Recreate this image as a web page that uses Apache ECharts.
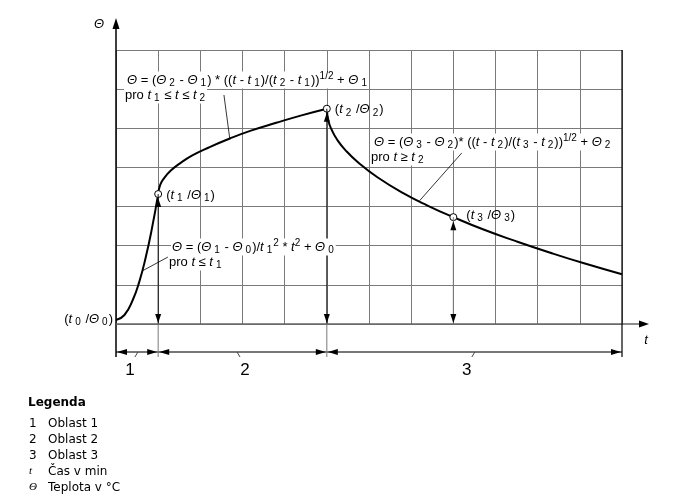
<!DOCTYPE html>
<html>
<head>
<meta charset="utf-8">
<script src="https://cdn.jsdelivr.net/npm/echarts@6/dist/echarts.min.js"></script>
<style>
    html, body { margin: 0; padding: 0; background: #fff; }
    #chart { width: 686px; height: 499px; }
</style>
</head>
<body>
<div id="chart"></div>
<script>
// curve, in grid cells (x: 12 cells, y: 7 cells)
const region1Times = [0, 0.2, 0.4, 0.55, 0.7, 0.85, 1];
const region1Temps = [0.1, 0.23, 0.62, 1.07, 1.68, 2.43, 3.32];
const region2Times = [1, 1.05, 1.15, 1.3, 1.5, 1.8, 2.2, 2.7, 3.2, 3.8, 4.4, 5];
const region2Temps = [3.32, 3.56, 3.74, 3.92, 4.09, 4.3, 4.51, 4.74, 4.94, 5.14, 5.33, 5.5];
const region3Times = [5, 5.04, 5.12, 5.25, 5.45, 5.75, 6.2, 6.8, 7.4, 8, 8.7, 9.5, 10.3, 11.1, 12];
const region3Temps = [5.5, 5.18, 4.95, 4.7, 4.43, 4.12, 3.75, 3.35, 3.02, 2.73, 2.42, 2.11, 1.82, 1.55, 1.27];

// (t0/Θ0) ... (t3/Θ3)
const pointTimes = [0, 1, 5, 8];
const pointTemps = [0.1, 3.32, 5.5, 2.73];
const pointIndex = ['0', '1', '2', '3'];

// regions 1..3 along the time axis
const regionBounds = [0, 1, 5, 12];
const regionLabels = ['1', '2', '3'];
const regionLabelAt = [0.33, 3.06, 8.32];

const legendKeys = ['1', '2', '3', 't', 'Θ'];
const legendTexts = ['Oblast 1', 'Oblast 2', 'Oblast 3', 'Čas v min', 'Teplota v °C'];

const FONT = '"Liberation Sans", Arial, sans-serif';
const LEGEND_FONT = '"DejaVu Sans", Verdana, sans-serif';
const GRID_COLOR = '#7a7a7a';

const rich = {
    i: { fontFamily: FONT, fontSize: 13, fontStyle: 'italic', lineHeight: 17, color: '#000' },
    s: { fontFamily: FONT, fontSize: 10, lineHeight: 10, verticalAlign: 'bottom', padding: [0, 1, 0, 3], color: '#000' },
    p: { fontFamily: FONT, fontSize: 10, lineHeight: 10, verticalAlign: 'top', color: '#000' },
    n: { fontFamily: FONT, fontSize: 13, lineHeight: 17, color: '#1b1b6e' }
};

const pairs = (xs, ys) => xs.map((x, i) => [x, ys[i]]);

const chart = echarts.init(document.getElementById('chart'), null, { renderer: 'canvas' });

const curves = [
    [region1Times, region1Temps],
    [region2Times, region2Temps],
    [region3Times, region3Temps]
].map(([xs, ys]) => ({
    type: 'line',
    data: pairs(xs, ys),
    smooth: 0.5,
    symbol: 'none',
    silent: true,
    z: 4,
    lineStyle: { color: '#000', width: 2 }
}));

const pointLabel = i => `(${'{i|t}'}{s|${pointIndex[i]}} /{i|Θ}{s|${pointIndex[i]}})`;

chart.setOption({
    animation: false,
    grid: { left: 116, top: 50, right: 64, bottom: 175 },
    xAxis: {
        type: 'value', min: 0, max: 12, interval: 1,
        axisLine: { show: false }, axisTick: { show: false }, axisLabel: { show: false },
        splitLine: { show: true, lineStyle: { color: GRID_COLOR, width: 1 } }
    },
    yAxis: {
        type: 'value', min: 0, max: 7, interval: 1,
        axisLine: { show: false }, axisTick: { show: false }, axisLabel: { show: false },
        splitLine: { show: true, lineStyle: { color: GRID_COLOR, width: 1 } }
    },
    series: [
        ...curves,
        {
            type: 'scatter',
            z: 6,
            silent: true,
            data: pointTimes.map((t, i) => ({
                value: [t, pointTemps[i]],
                symbolSize: i === 0 ? 0 : 7,
                label: i === 0
                    ? { position: 'left', distance: 3, offset: [0, -1] }
                    : { position: 'right', distance: i === 3 ? 9 : 4, offset: [0, i === 3 ? -2 : 1] }
            })),
            itemStyle: { color: '#fff', borderColor: '#000', borderWidth: 1, opacity: 1 },
            label: {
                show: true,
                fontFamily: FONT, fontSize: 13, lineHeight: 17, color: '#000',
                formatter: p => pointLabel(p.dataIndex),
                rich: rich
            }
        }
    ]
});

// annotation layer, placed through the grid's own coordinate system
const px = (x, y) => chart.convertToPixel({ gridIndex: 0 }, [x, y]);
const [X0, Y0] = px(0, 0);
const [X12, Y7] = px(12, 7);
const dimY = Y0 + 28;
const extY = Y0 + 33;

function seg(a, b, stroke, w, z) {
    return { type: 'line', z: z || 8, silent: true,
        shape: { x1: a[0], y1: a[1], x2: b[0], y2: b[1] },
        style: { stroke: stroke, lineWidth: w } };
}
function head(tip, dir, len, half) {
    len = len || 9; half = half || 3;
    const [x, y] = tip;
    const pts = {
        up: [[x, y], [x - half, y + len], [x + half, y + len]],
        down: [[x, y], [x - half, y - len], [x + half, y - len]],
        left: [[x, y], [x + len, y - half], [x + len, y + half]],
        right: [[x, y], [x - len, y - half], [x - len, y + half]]
    }[dir];
    return { type: 'polygon', z: 12, silent: true, shape: { points: pts }, style: { fill: '#000' } };
}
function txt(x, y, text, opts) {
    return { type: 'text', x: x, y: y, z: 9, silent: true,
        style: Object.assign({
            text: text, rich: rich, fontFamily: FONT, fontSize: 13, lineHeight: 17,
            fill: '#000', align: 'left', verticalAlign: 'middle'
        }, opts || {}) };
}

const g = [];

// axes with arrows
g.push(seg([X0, extY], [X0, Y7 - 21], '#000', 1.5, 10));
g.push(head([X0, 18], 'up', 11, 3.5));
g.push(seg([X0, Y0], [X12 + 18, Y0], '#666', 1.5, 10));
g.push(head([X12 + 27, Y0], 'right', 10, 3.5));
g.push(seg([X12, Y7], [X12, extY], '#000', 1.2, 10));
g.push(txt(X0 - 17, 24, '{i|Θ}', { align: 'center' }));
g.push(txt(X12 + 24, Y0 + 16, '{i|t}', { align: 'center' }));

// vertical arrows from the time axis up to t1, t2, t3
pointTimes.slice(1).forEach((t, k) => {
    const [x, yTop] = px(t, pointTemps[k + 1]);
    g.push(seg([x, Y0], [x, yTop], k === 2 ? GRID_COLOR : '#111', 1, 7));
    g.push(head([x, yTop + 4], 'up', 9, 3));
    g.push(head([x, Y0 - 1], 'down', 9, 3));
    if (k < 2) g.push(seg([x, Y0], [x, extY], GRID_COLOR, 1, 7));
});

// region dimension line
g.push(seg([X0, dimY], [X12, dimY], '#777', 2, 8));
for (let r = 0; r < regionLabels.length; r++) {
    const xa = px(regionBounds[r], 0)[0];
    const xb = px(regionBounds[r + 1], 0)[0];
    g.push(head([xa + 1, dimY], 'left', 10, 3));
    g.push(head([xb - 1, dimY], 'right', 10, 3));
    const xl = px(regionLabelAt[r], 0)[0];
    const side = r === 1 ? -1 : 1;
    g.push(seg([xl + 5 * side + 3 * side, dimY], [xl + 5 * side, dimY + 5], '#444', 1, 8));
    g.push(txt(xl, dimY + 18, regionLabels[r], { align: 'center', fontSize: 17 }));
}

// formula annotations with leader lines
const note = (x, y, text) => txt(x, y, text, { backgroundColor: '#fff', padding: [0, 1] });
g.push(note(126, 80, '{i|Θ} = ({i|Θ}{s|2} - {i|Θ}{s|1}) * (({i|t} - {i|t}{s|1})/({i|t}{s|2} - {i|t}{s|1})){p|1/2} + {i|Θ}{s|1}'));
g.push(note(124, 95, '{n|pro} {i|t}{s|1} ≤ {i|t} ≤ {i|t}{s|2}'));
g.push(seg(px(2.56, 5.85), px(2.7, 4.72), '#000', 0.8, 8));

g.push(note(373, 142, '{i|Θ} = ({i|Θ}{s|3} - {i|Θ}{s|2})* (({i|t} - {i|t}{s|2})/({i|t}{s|3} - {i|t}{s|2})){p|1/2} + {i|Θ}{s|2}'));
g.push(note(370, 157, '{n|pro} {i|t} ≥ {i|t}{s|2}'));
g.push(seg(px(8.2, 4.37), px(7.2, 3.15), '#000', 0.8, 8));

g.push(note(171, 247, '{i|Θ} = ({i|Θ}{s|1} - {i|Θ}{s|0})/{i|t}{s|1}{p|2} * {i|t}{p|2} + {i|Θ}{s|0}'));
g.push(note(168, 262, '{n|pro} {i|t} ≤ {i|t}{s|1}'));
g.push(seg(px(1.23, 1.71), px(0.63, 1.36), '#000', 0.8, 8));

// legend block
g.push({ type: 'text', x: 28, y: 403, silent: true,
    style: { text: 'Legenda', fontFamily: LEGEND_FONT, fontSize: 12, fontWeight: 'bold', fill: '#000', verticalAlign: 'middle' } });
legendKeys.forEach((key, i) => {
    const y = 423.5 + i * 16;
    const italic = i >= 3;
    g.push({ type: 'text', x: 29, y: y, silent: true,
        style: { text: key, fontFamily: italic ? '"Liberation Serif", serif' : LEGEND_FONT, fontSize: italic ? 11 : 12,
            fontStyle: italic ? 'italic' : 'normal', fill: '#000', verticalAlign: 'middle' } });
    g.push({ type: 'text', x: 48, y: y, silent: true,
        style: { text: legendTexts[i], fontFamily: LEGEND_FONT, fontSize: 12, fill: '#000', verticalAlign: 'middle' } });
});

chart.setOption({ graphic: g });
</script>
</body>
</html>
